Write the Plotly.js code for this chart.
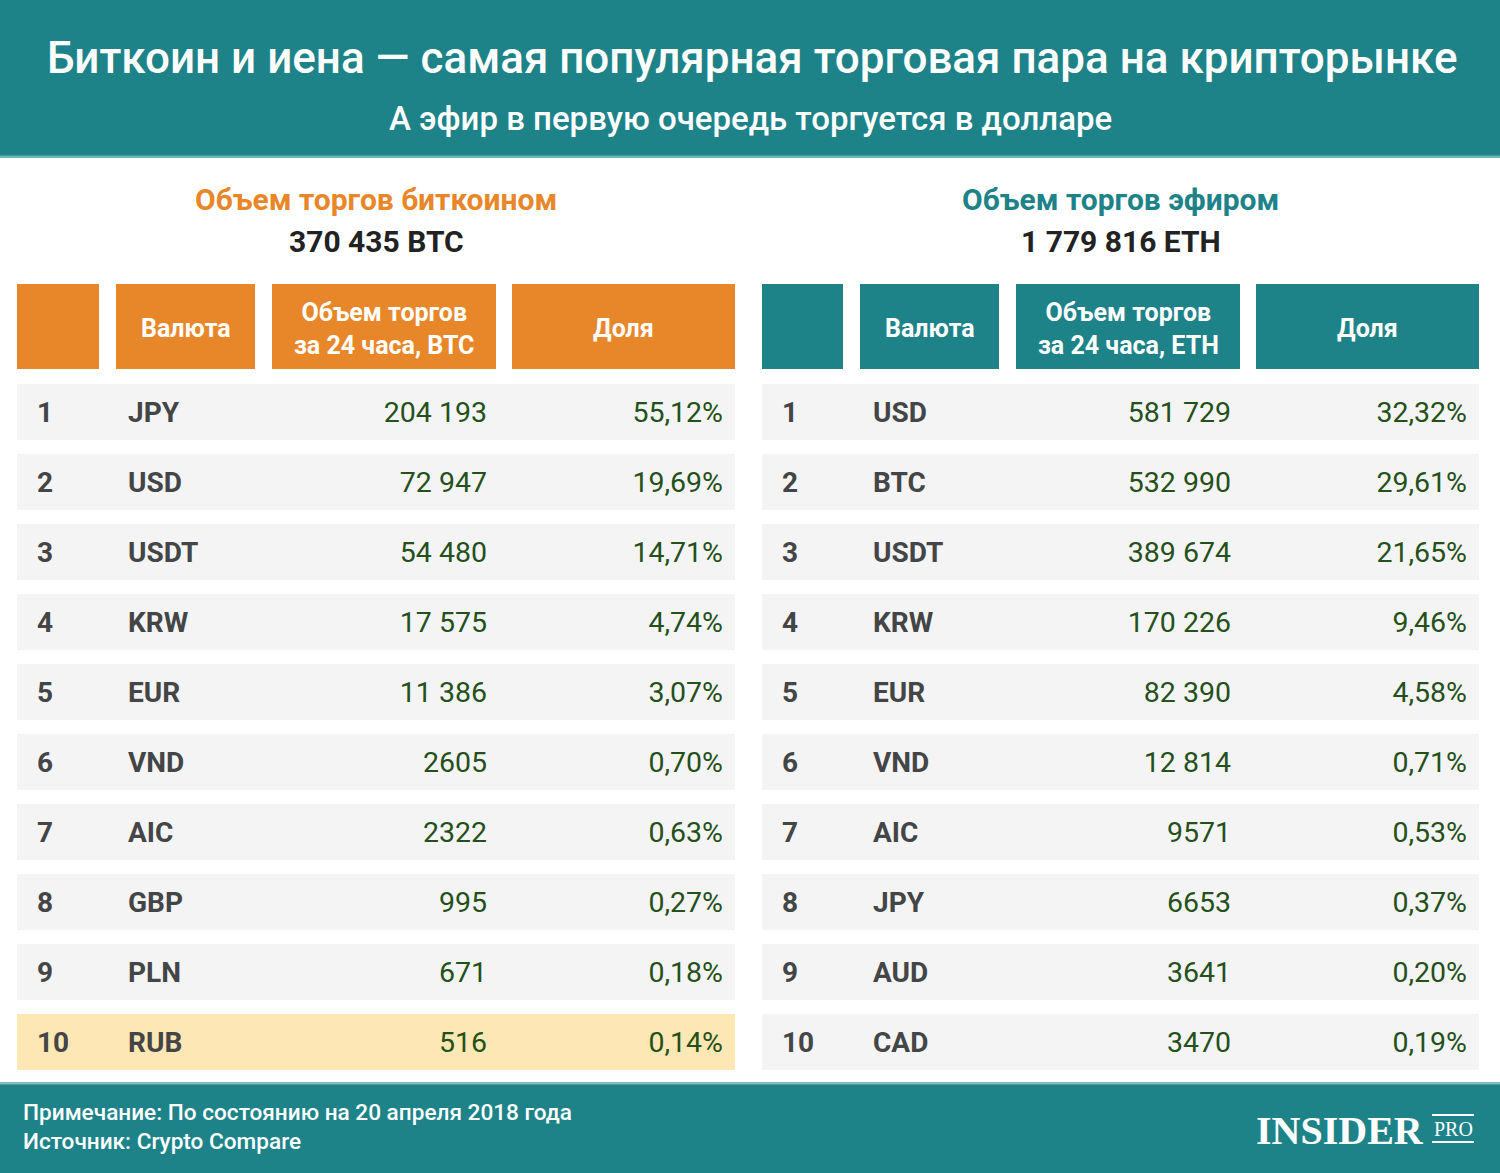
<!DOCTYPE html>
<html>
<head>
<meta charset="utf-8">
<script src="https://cdn.plot.ly/plotly-3.0.1.min.js"></script>
<style>
  html, body { margin: 0; padding: 0; background: #ffffff; }
  #chart { width: 1500px; height: 1173px; }
</style>
</head>
<body>
<div id="chart"></div>
<script>
// ---------- DATA ----------
const ranks = [1, 2, 3, 4, 5, 6, 7, 8, 9, 10];

const btcCurrencies = ['JPY', 'USD', 'USDT', 'KRW', 'EUR', 'VND', 'AIC', 'GBP', 'PLN', 'RUB'];
const btcVolumes = [204193, 72947, 54480, 17575, 11386, 2605, 2322, 995, 671, 516];
const btcShares = [55.12, 19.69, 14.71, 4.74, 3.07, 0.70, 0.63, 0.27, 0.18, 0.14];
const btcTotal = '370 435 BTC';

const ethCurrencies = ['USD', 'BTC', 'USDT', 'KRW', 'EUR', 'VND', 'AIC', 'JPY', 'AUD', 'CAD'];
const ethVolumes = [581729, 532990, 389674, 170226, 82390, 12814, 9571, 6653, 3641, 3470];
const ethShares = [32.32, 29.61, 21.65, 9.46, 4.58, 0.71, 0.53, 0.37, 0.20, 0.19];
const ethTotal = '1 779 816 ETH';

const highlightCurrency = 'RUB'; // highlighted in bitcoin table

const headersBtc = ['', 'Валюта', 'Объем торгов<br>за 24 часа, BTC', 'Доля'];
const headersEth = ['', 'Валюта', 'Объем торгов<br>за 24 часа, ETH', 'Доля'];

const titleText = 'Биткоин и иена — самая популярная торговая пара на крипторынке';
const subtitleText = 'А эфир в первую очередь торгуется в долларе';
const btcSection = 'Объем торгов биткоином';
const ethSection = 'Объем торгов эфиром';
const noteText = 'Примечание: По состоянию на 20 апреля 2018 года';
const sourceText = 'Источник: Crypto Compare';

// ---------- STYLE / LAYOUT CONSTANTS ----------
const W = 1500, H = 1173;
const TEAL = '#1e8389';
const ORANGE = '#e8872a';
const ROW_FILL = '#f4f4f4';
const HL_FILL = '#fde7b4';
const TXT_DARK = '#434546';
const TXT_GREEN = '#24501a';
const FONT = 'Roboto, "Noto Sans", sans-serif';

const tables = [
  {
    cols: [[17, 99], [116, 255], [272, 496], [512, 735]],
    color: ORANGE, headers: headersBtc,
    cur: btcCurrencies, vol: btcVolumes, sh: btcShares,
    section: btcSection, total: btcTotal, hl: highlightCurrency
  },
  {
    cols: [[762, 843], [860, 999], [1016, 1240], [1256, 1479]],
    color: TEAL, headers: headersEth,
    cur: ethCurrencies, vol: ethVolumes, sh: ethShares,
    section: ethSection, total: ethTotal, hl: null
  }
];

const headTop = 284, headBot = 369;
const rowTop0 = 384, rowStep = 70, rowH = 56;

function fmtNum(n) {
  const s = String(n);
  if (n < 10000) return s;
  return s.replace(/\B(?=(\d{3})+(?!\d))/g, ' ');
}
function fmtPct(p) {
  return p.toFixed(2).replace('.', ',') + '%';
}

const traces = [];
const shapes = [];
const annotations = [];

// header band & footer band
shapes.push({type: 'rect', xref: 'x', yref: 'y', x0: 0, x1: W, y0: 0, y1: 157, fillcolor: TEAL, line: {width: 0}, layer: 'below'});
shapes.push({type: 'rect', xref: 'x', yref: 'y', x0: 0, x1: W, y0: 155.5, y1: 158, fillcolor: '#6cb4b8', line: {width: 0}, layer: 'below'});
shapes.push({type: 'rect', xref: 'x', yref: 'y', x0: 0, x1: W, y0: 1082, y1: H, fillcolor: TEAL, line: {width: 0}, layer: 'below'});
shapes.push({type: 'rect', xref: 'x', yref: 'y', x0: 0, x1: W, y0: 1082, y1: 1084.5, fillcolor: '#7fbcc0', line: {width: 0}, layer: 'below'});

annotations.push({x: 752, y: 58, xref: 'x', yref: 'y', text: titleText, showarrow: false,
  font: {family: FONT, size: 44, color: '#ffffff', weight: 500}, xanchor: 'center', yanchor: 'middle'});
annotations.push({x: 750, y: 118, xref: 'x', yref: 'y', text: subtitleText, showarrow: false,
  font: {family: FONT, size: 33, color: '#ffffff', weight: 500}, xanchor: 'center', yanchor: 'middle'});

tables.forEach((t, ti) => {
  const left = t.cols[0][0], right = t.cols[3][1];
  const mid = (left + right) / 2;
  // section titles
  annotations.push({x: mid, y: 199, xref: 'x', yref: 'y', text: '<b>' + t.section + '</b>', showarrow: false,
    font: {family: FONT, size: 30, color: t.color}, xanchor: 'center', yanchor: 'middle'});
  annotations.push({x: mid, y: 241, xref: 'x', yref: 'y', text: '<b>' + t.total + '</b>', showarrow: false,
    font: {family: FONT, size: 30, color: '#222222'}, xanchor: 'center', yanchor: 'middle'});

  // header cells
  t.cols.forEach((c, ci) => {
    shapes.push({type: 'rect', xref: 'x', yref: 'y', x0: c[0], x1: c[1], y0: headTop, y1: headBot,
      fillcolor: t.color, line: {width: 0}, layer: 'below'});
    if (t.headers[ci]) {
      annotations.push({x: (c[0] + c[1]) / 2, y: (headTop + headBot) / 2 + 2, xref: 'x', yref: 'y',
        text: '<b>' + t.headers[ci] + '</b>', showarrow: false, align: 'center',
        font: {family: FONT, size: 25, color: '#ffffff'}, xanchor: 'center', yanchor: 'middle'});
    }
  });

  // row backgrounds as horizontal bars
  const yCenters = ranks.map((r, i) => rowTop0 + rowStep * i + rowH / 2);
  traces.push({
    type: 'bar', orientation: 'h',
    y: yCenters, x: ranks.map(() => right - left), base: left, width: rowH,
    marker: {color: t.cur.map(c => (c === t.hl ? HL_FILL : ROW_FILL)), line: {width: 0}},
    hoverinfo: 'skip', showlegend: false
  });

  // texts (slightly below geometric centre to match the reference baseline)
  const yText = yCenters.map(y => y + 3);
  const textTrace = (xpos, txts, pos, color, bold, size) => ({
    type: 'scatter', mode: 'text',
    x: ranks.map(() => xpos), y: yText,
    text: txts.map(s => bold ? '<b>' + s + '</b>' : s),
    textposition: pos, marker: {size: 0},
    textfont: {family: FONT, size: size, color: color},
    hoverinfo: 'skip', showlegend: false, cliponaxis: false
  });
  const off = ti === 0 ? 0 : 745;
  traces.push(textTrace(37 + off, ranks.map(String), 'middle right', TXT_DARK, true, 28));
  traces.push(textTrace(128 + off, t.cur, 'middle right', TXT_DARK, true, 28));
  traces.push(textTrace(t.cols[2][1] - 9, t.vol.map(fmtNum), 'middle left', TXT_GREEN, false, 28.5));
  traces.push(textTrace(t.cols[3][1] - 12, t.sh.map(fmtPct), 'middle left', TXT_GREEN, false, 28.5));
});

// footer
annotations.push({x: 21, y: 1112, xref: 'x', yref: 'y', text: noteText, showarrow: false,
  font: {family: FONT, size: 22.6, color: '#ffffff', weight: 500}, xanchor: 'left', yanchor: 'middle'});
annotations.push({x: 21, y: 1141, xref: 'x', yref: 'y', text: sourceText, showarrow: false,
  font: {family: FONT, size: 22.6, color: '#ffffff', weight: 500}, xanchor: 'left', yanchor: 'middle'});
// logo
annotations.push({x: 1426, y: 1130, xref: 'x', yref: 'y', text: '<b>INSIDER</b>', showarrow: false,
  font: {family: '"Liberation Serif", "DejaVu Serif", serif', size: 40, color: '#ffffff'}, xanchor: 'right', yanchor: 'middle'});
annotations.push({x: 1453, y: 1129, xref: 'x', yref: 'y', text: 'PRO', showarrow: false,
  font: {family: '"Liberation Serif", "DejaVu Serif", serif', size: 20, color: '#ffffff'}, xanchor: 'center', yanchor: 'middle'});
shapes.push({type: 'line', xref: 'x', yref: 'y', x0: 1432, x1: 1474, y0: 1115, y1: 1115, line: {color: '#ffffff', width: 2}});
shapes.push({type: 'line', xref: 'x', yref: 'y', x0: 1432, x1: 1474, y0: 1142, y1: 1142, line: {color: '#ffffff', width: 2}});

const layout = {
  width: W, height: H,
  margin: {l: 0, r: 0, t: 0, b: 0, pad: 0},
  paper_bgcolor: '#ffffff', plot_bgcolor: '#ffffff',
  barmode: 'overlay',
  xaxis: {range: [0, W], visible: false, fixedrange: true},
  yaxis: {range: [H, 0], visible: false, fixedrange: true},
  shapes: shapes, annotations: annotations,
  showlegend: false, hovermode: false
};

Plotly.newPlot('chart', traces, layout, {displayModeBar: false, staticPlot: true});
</script>
</body>
</html>
